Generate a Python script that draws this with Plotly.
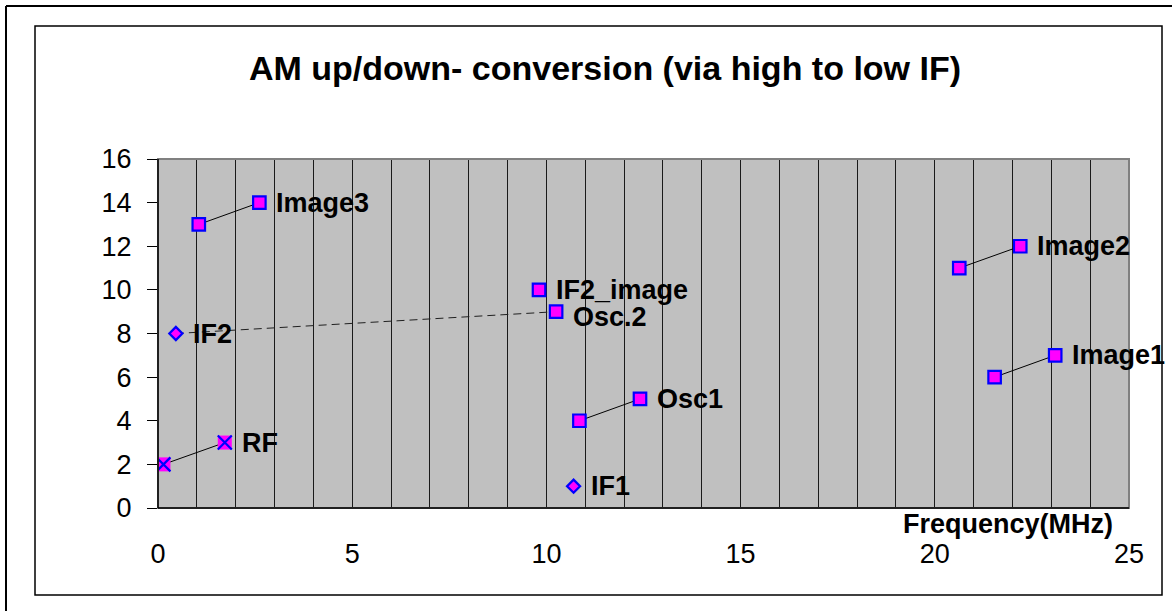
import plotly.graph_objects as go

# ---- data ----
rf_x = [0.14, 1.72]; rf_y = [2, 3]
image3_x = [1.05, 2.61]; image3_y = [13, 14]
osc1_x = [10.85, 12.41]; osc1_y = [4, 5]
image2_x = [20.63, 22.20]; image2_y = [11, 12]
image1_x = [21.54, 23.10]; image1_y = [6, 7]
if2_osc2_x = [0.46, 10.25]; if2_osc2_y = [8, 9]
if2_image_x = [9.81]; if2_image_y = [10]
if1_x = [10.70]; if1_y = [1]

label_names = ["RF", "Image3", "Osc1", "Image2", "Image1", "IF2", "Osc.2", "IF2_image", "IF1"]
label_x = [rf_x[1], image3_x[1], osc1_x[1], image2_x[1], image1_x[1],
           if2_osc2_x[0], if2_osc2_x[1], if2_image_x[0], if1_x[0]]
label_y = [rf_y[1], image3_y[1], osc1_y[1], image2_y[1], image1_y[1],
           if2_osc2_y[0], if2_osc2_y[1], if2_image_y[0], if1_y[0]]
label_dy = [0, 0, 0, 0, 0, 0, -5, 0, 0]

x_ticks = [0, 5, 10, 15, 20, 25]
y_ticks = [0, 2, 4, 6, 8, 10, 12, 14, 16]

W, H = 1172, 611
L, R, T, B = 158, 1129, 159, 508

MAG = "#FF00FF"
BLUE = "#0000FF"
FONT = "Liberation Sans, Arial, sans-serif"

fig = go.Figure()

sq_marker = dict(symbol="square", size=12.5, color=MAG, line=dict(color=BLUE, width=2.2))

# dashed IF2 -> Osc.2 connection
fig.add_trace(go.Scatter(x=if2_osc2_x, y=if2_osc2_y, mode="lines",
                         line=dict(color="#202020", width=1, dash="8px,5px"),
                         hoverinfo="skip"))

# connected pairs
for xs, ys in [(image3_x, image3_y), (osc1_x, osc1_y), (image2_x, image2_y), (image1_x, image1_y)]:
    fig.add_trace(go.Scatter(x=xs, y=ys, mode="lines+markers",
                             line=dict(color="black", width=1), marker=sq_marker))

# RF pair: magenta squares with blue crosses
fig.add_trace(go.Scatter(x=rf_x, y=rf_y, mode="lines+markers",
                         line=dict(color="black", width=1),
                         marker=dict(symbol="square", size=14, color=MAG, line=dict(width=0))))
fig.add_trace(go.Scatter(x=rf_x, y=rf_y, mode="markers",
                         marker=dict(symbol="x-thin", size=14, color=BLUE,
                                     line=dict(color=BLUE, width=2.2))))

# Osc.2 and IF2_image squares
fig.add_trace(go.Scatter(x=[if2_osc2_x[1]], y=[if2_osc2_y[1]], mode="markers", marker=sq_marker))
fig.add_trace(go.Scatter(x=if2_image_x, y=if2_image_y, mode="markers", marker=sq_marker))

# diamonds IF2, IF1
dia = dict(symbol="diamond", size=10, color=MAG, line=dict(color=BLUE, width=2.3))
fig.add_trace(go.Scatter(x=[if2_osc2_x[0]], y=[if2_osc2_y[0]], mode="markers", marker=dia))
fig.add_trace(go.Scatter(x=if1_x, y=if1_y, mode="markers", marker=dia))

# data labels
for name, lx, ly, dy in zip(label_names, label_x, label_y, label_dy):
    fig.add_annotation(x=lx, y=ly, text="<b>%s</b>" % name, showarrow=False,
                       xanchor="left", yanchor="middle", xshift=15, yshift=dy,
                       font=dict(family=FONT, size=27, color="black"))

def px(xp):
    return (xp - L) / (R - L)

def py(yp):
    return (B - yp) / (B - T)

shapes = [
    # outer frame (left and top visible)
    dict(type="line", xref="paper", yref="paper", x0=px(6), x1=px(6), y0=py(6), y1=py(620),
         line=dict(color="black", width=2)),
    dict(type="line", xref="paper", yref="paper", x0=px(6), x1=px(1180), y0=py(6), y1=py(6),
         line=dict(color="black", width=2)),
    # inner chart border
    dict(type="rect", xref="paper", yref="paper", x0=px(35), x1=px(1162), y0=py(595), y1=py(26),
         line=dict(color="black", width=1.5)),
    # plot area border (gray)
    dict(type="rect", xref="paper", yref="paper", x0=0, x1=1, y0=0, y1=1,
         line=dict(color="#808080", width=2), layer="above"),
    # black axis lines
    dict(type="line", xref="paper", yref="paper", x0=0, x1=0, y0=0, y1=1,
         line=dict(color="black", width=1.5), layer="above"),
    dict(type="line", xref="paper", yref="paper", x0=0, x1=1, y0=0, y1=0,
         line=dict(color="black", width=1.5), layer="above"),
]

fig.add_annotation(xref="paper", yref="paper", x=px(1008), y=py(524),
                   text="<b>Frequency(MHz)</b>", showarrow=False,
                   xanchor="center", yanchor="middle",
                   font=dict(family=FONT, size=27, color="black"))

fig.update_layout(
    width=W, height=H,
    margin=dict(l=L, r=W - R, t=T, b=H - B),
    paper_bgcolor="white", plot_bgcolor="#C0C0C0",
    showlegend=False,
    shapes=shapes,
    title=dict(text="<b>AM up/down- conversion (via high to low IF)</b>",
               x=605 / W, xanchor="center", y=1 - 68 / H, yanchor="middle",
               xref="container", yref="container",
               font=dict(family=FONT, size=34, color="black")),
    xaxis=dict(range=[0, 25], tickmode="array", tickvals=x_ticks,
               ticktext=[str(v) for v in x_ticks],
               showgrid=True, gridcolor="#1a1a1a", gridwidth=1,
               minor=dict(dtick=1, showgrid=True, gridcolor="#1a1a1a", gridwidth=1),
               zeroline=False, showline=False, ticks="",
               ticklabelstandoff=27,
               tickfont=dict(family=FONT, size=27, color="black"), fixedrange=True),
    yaxis=dict(range=[0, 16], tickmode="array", tickvals=y_ticks,
               ticktext=[str(v) for v in y_ticks],
               showgrid=False, zeroline=False, showline=False,
               ticks="outside", ticklen=10, tickcolor="black", tickwidth=1,
               ticklabelstandoff=10,
               tickfont=dict(family=FONT, size=27, color="black"), fixedrange=True),
)

fig.write_html("out.html", config={"displayModeBar": False},
               post_script="document.body.style.margin='0px';document.body.style.overflow='hidden';")
